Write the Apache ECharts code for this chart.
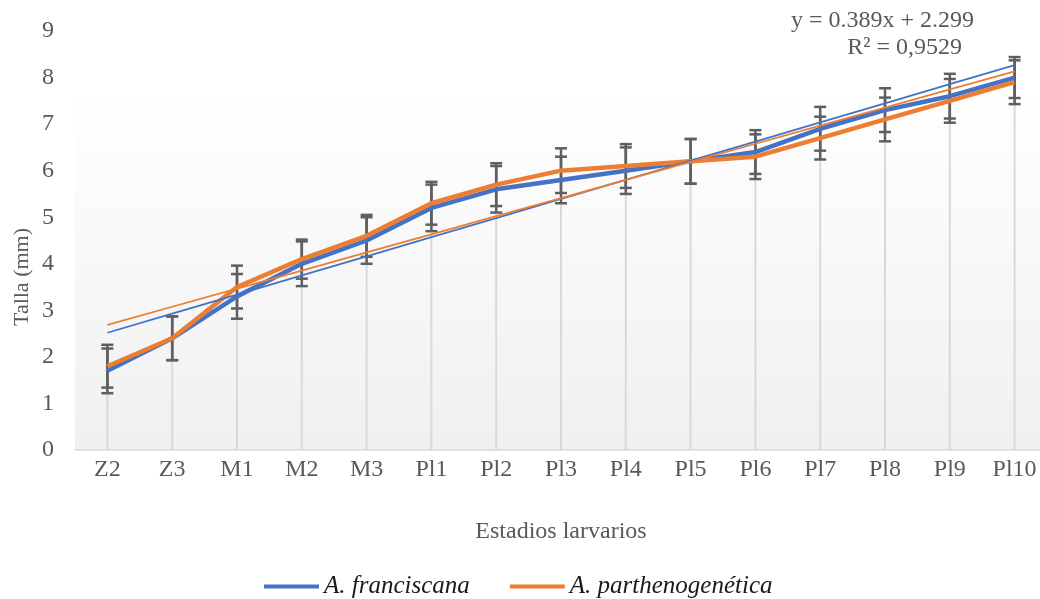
<!DOCTYPE html>
<html>
<head>
<meta charset="utf-8">
<script src="https://cdn.jsdelivr.net/npm/echarts@6/dist/echarts.min.js"></script>
<style>
  html, body { margin: 0; padding: 0; background: #ffffff; overflow: hidden; }
  #chart { width: 1047px; height: 599px; }
</style>
</head>
<body>
<div id="chart"></div>
<script>
// Larval stages
const categories = ['Z2', 'Z3', 'M1', 'M2', 'M3', 'Pl1', 'Pl2', 'Pl3', 'Pl4', 'Pl5', 'Pl6', 'Pl7', 'Pl8', 'Pl9', 'Pl10'];

// Mean size (mm) per stage
const franciscana = [1.7, 2.4, 3.3, 4.0, 4.5, 5.2, 5.6, 5.8, 6.0, 6.2, 6.4, 6.9, 7.3, 7.6, 8.0];
const parthenogenetica = [1.8, 2.4, 3.5, 4.1, 4.6, 5.3, 5.7, 6.0, 6.1, 6.2, 6.3, 6.7, 7.1, 7.5, 7.9];

// Standard deviation (mm) per stage
const franciscanaSD = [0.48, 0.47, 0.48, 0.48, 0.5, 0.5, 0.5, 0.5, 0.5, 0.48, 0.47, 0.47, 0.47, 0.48, 0.44];
const parthenogeneticaSD = [0.46, 0.47, 0.46, 0.42, 0.45, 0.46, 0.46, 0.48, 0.47, 0.48, 0.48, 0.46, 0.47, 0.47, 0.47];

// Linear trend shown with its equation (A. parthenogenética)
const trendSlope = 0.389;
const trendIntercept = 2.299;
const trendR2 = '0,9529';

const yTicks = [0, 9, 1]; // min, max, step

const BLUE = '#4472C4';
const ORANGE = '#ED7D31';
const TEXT = '#595959';
const FONT = '"Liberation Serif", "Times New Roman", serif';

// Least-squares fit over stage index 1..n
function fitLine(values) {
  const n = values.length;
  let sx = 0, sy = 0, sxy = 0, sxx = 0;
  values.forEach((v, i) => { const x = i + 1; sx += x; sy += v; sxy += x * v; sxx += x * x; });
  const slope = (n * sxy - sx * sy) / (n * sxx - sx * sx);
  return { slope, intercept: (sy - slope * sx) / n };
}
const blueFit = fitLine(franciscana);
const trendBlue = categories.map((c, i) => blueFit.slope * (i + 1) + blueFit.intercept);
const trendOrange = categories.map((c, i) => trendSlope * (i + 1) + trendIntercept);

const errFranciscana = franciscana.map((v, i) => [i, v - franciscanaSD[i], v + franciscanaSD[i]]);
const errPartheno = parthenogenetica.map((v, i) => [i, v - parthenogeneticaSD[i], v + parthenogeneticaSD[i]]);
const dropData = franciscana.map((v, i) => [i, Math.max(v, parthenogenetica[i])]);

function errorBarItem(params, api) {
  const x = api.value(0);
  const lo = api.coord([x, api.value(1)]);
  const hi = api.coord([x, api.value(2)]);
  const half = 6;
  const style = { stroke: '#5f5f5f', lineWidth: 2.5 };
  return {
    type: 'group',
    children: [
      { type: 'line', shape: { x1: lo[0], y1: lo[1], x2: hi[0], y2: hi[1] }, style },
      { type: 'line', shape: { x1: lo[0] - half, y1: lo[1], x2: lo[0] + half, y2: lo[1] }, style },
      { type: 'line', shape: { x1: hi[0] - half, y1: hi[1], x2: hi[0] + half, y2: hi[1] }, style }
    ]
  };
}

function dropLineItem(params, api) {
  const x = api.value(0);
  const top = api.coord([x, api.value(1)]);
  const bottom = api.coord([x, 0]);
  return {
    type: 'line',
    shape: { x1: top[0], y1: top[1], x2: bottom[0], y2: bottom[1] },
    style: { stroke: '#d9d9d9', lineWidth: 2 }
  };
}

const chart = echarts.init(document.getElementById('chart'), null, { renderer: 'canvas' });

chart.setOption({
  animation: false,
  backgroundColor: '#ffffff',
  textStyle: { fontFamily: FONT },
  grid: { left: 75, right: 0, top: 31, bottom: 149, containLabel: false },
  graphic: [
    {
      type: 'rect',
      z: -10,
      silent: true,
      shape: { x: 75, y: 88, width: 972, height: 362 },
      style: {
        fill: new echarts.graphic.LinearGradient(0, 0, 0, 1, [
          { offset: 0, color: '#ffffff' },
          { offset: 1, color: '#f0f0f0' }
        ])
      }
    },
    {
      type: 'text',
      x: 974, y: 9,
      style: {
        text: 'y = ' + trendSlope.toFixed(3) + 'x + ' + trendIntercept.toFixed(3),
        font: '24px ' + FONT, fill: TEXT, align: 'right', verticalAlign: 'top'
      }
    },
    {
      type: 'text',
      x: 962, y: 36,
      style: {
        text: 'R² = ' + trendR2,
        font: '24px ' + FONT, fill: TEXT, align: 'right', verticalAlign: 'top'
      }
    },
    {
      type: 'text',
      x: 22, y: 277,
      rotation: Math.PI / 2,
      style: {
        text: 'Talla (mm)',
        font: '22px ' + FONT, fill: TEXT, align: 'center', verticalAlign: 'middle'
      }
    }
  ],
  legend: {
    data: ['A. franciscana', 'A. parthenogenética'],
    left: 259,
    top: 569,
    icon: 'rect',
    itemWidth: 55,
    itemHeight: 4,
    itemGap: 40,
    textStyle: { fontFamily: FONT, fontStyle: 'italic', fontSize: 25, color: '#1a1a1a' }
  },
  xAxis: {
    type: 'category',
    data: categories,
    boundaryGap: true,
    axisLine: { lineStyle: { color: '#d9d9d9', width: 1.5 } },
    axisTick: { show: false },
    axisLabel: { fontFamily: FONT, fontSize: 24, color: TEXT, margin: 8 },
    splitLine: { show: false },
    name: 'Estadios larvarios',
    nameLocation: 'middle',
    nameGap: 70,
    nameTextStyle: { fontFamily: FONT, fontSize: 24, color: TEXT }
  },
  yAxis: {
    type: 'value',
    min: yTicks[0],
    max: yTicks[1],
    interval: yTicks[2],
    axisLine: { show: false },
    axisTick: { show: false },
    splitLine: { show: false },
    axisLabel: { fontFamily: FONT, fontSize: 24, color: TEXT, margin: 21 }
  },
  series: [
    {
      type: 'custom',
      name: 'drop',
      renderItem: dropLineItem,
      data: dropData,
      encode: { x: 0, y: 1 },
      z: 1,
      silent: true
    },
    {
      type: 'custom',
      name: 'err-f',
      renderItem: errorBarItem,
      data: errFranciscana,
      encode: { x: 0, y: [1, 2] },
      z: 2,
      silent: true
    },
    {
      type: 'custom',
      name: 'err-p',
      renderItem: errorBarItem,
      data: errPartheno,
      encode: { x: 0, y: [1, 2] },
      z: 2,
      silent: true
    },
    {
      type: 'line',
      name: 'A. franciscana',
      data: franciscana,
      showSymbol: false,
      symbol: 'none',
      lineStyle: { color: BLUE, width: 4.5 },
      itemStyle: { color: BLUE },
      z: 3
    },
    {
      type: 'line',
      name: 'A. parthenogenética',
      data: parthenogenetica,
      showSymbol: false,
      symbol: 'none',
      lineStyle: { color: ORANGE, width: 4.5 },
      itemStyle: { color: ORANGE },
      z: 4
    },
    {
      type: 'line',
      name: 'trend-f',
      data: trendBlue,
      showSymbol: false,
      symbol: 'none',
      lineStyle: { color: BLUE, width: 1.8 },
      z: 5,
      silent: true
    },
    {
      type: 'line',
      name: 'trend-p',
      data: trendOrange,
      showSymbol: false,
      symbol: 'none',
      lineStyle: { color: ORANGE, width: 1.8 },
      z: 6,
      silent: true
    }
  ]
});
</script>
</body>
</html>
